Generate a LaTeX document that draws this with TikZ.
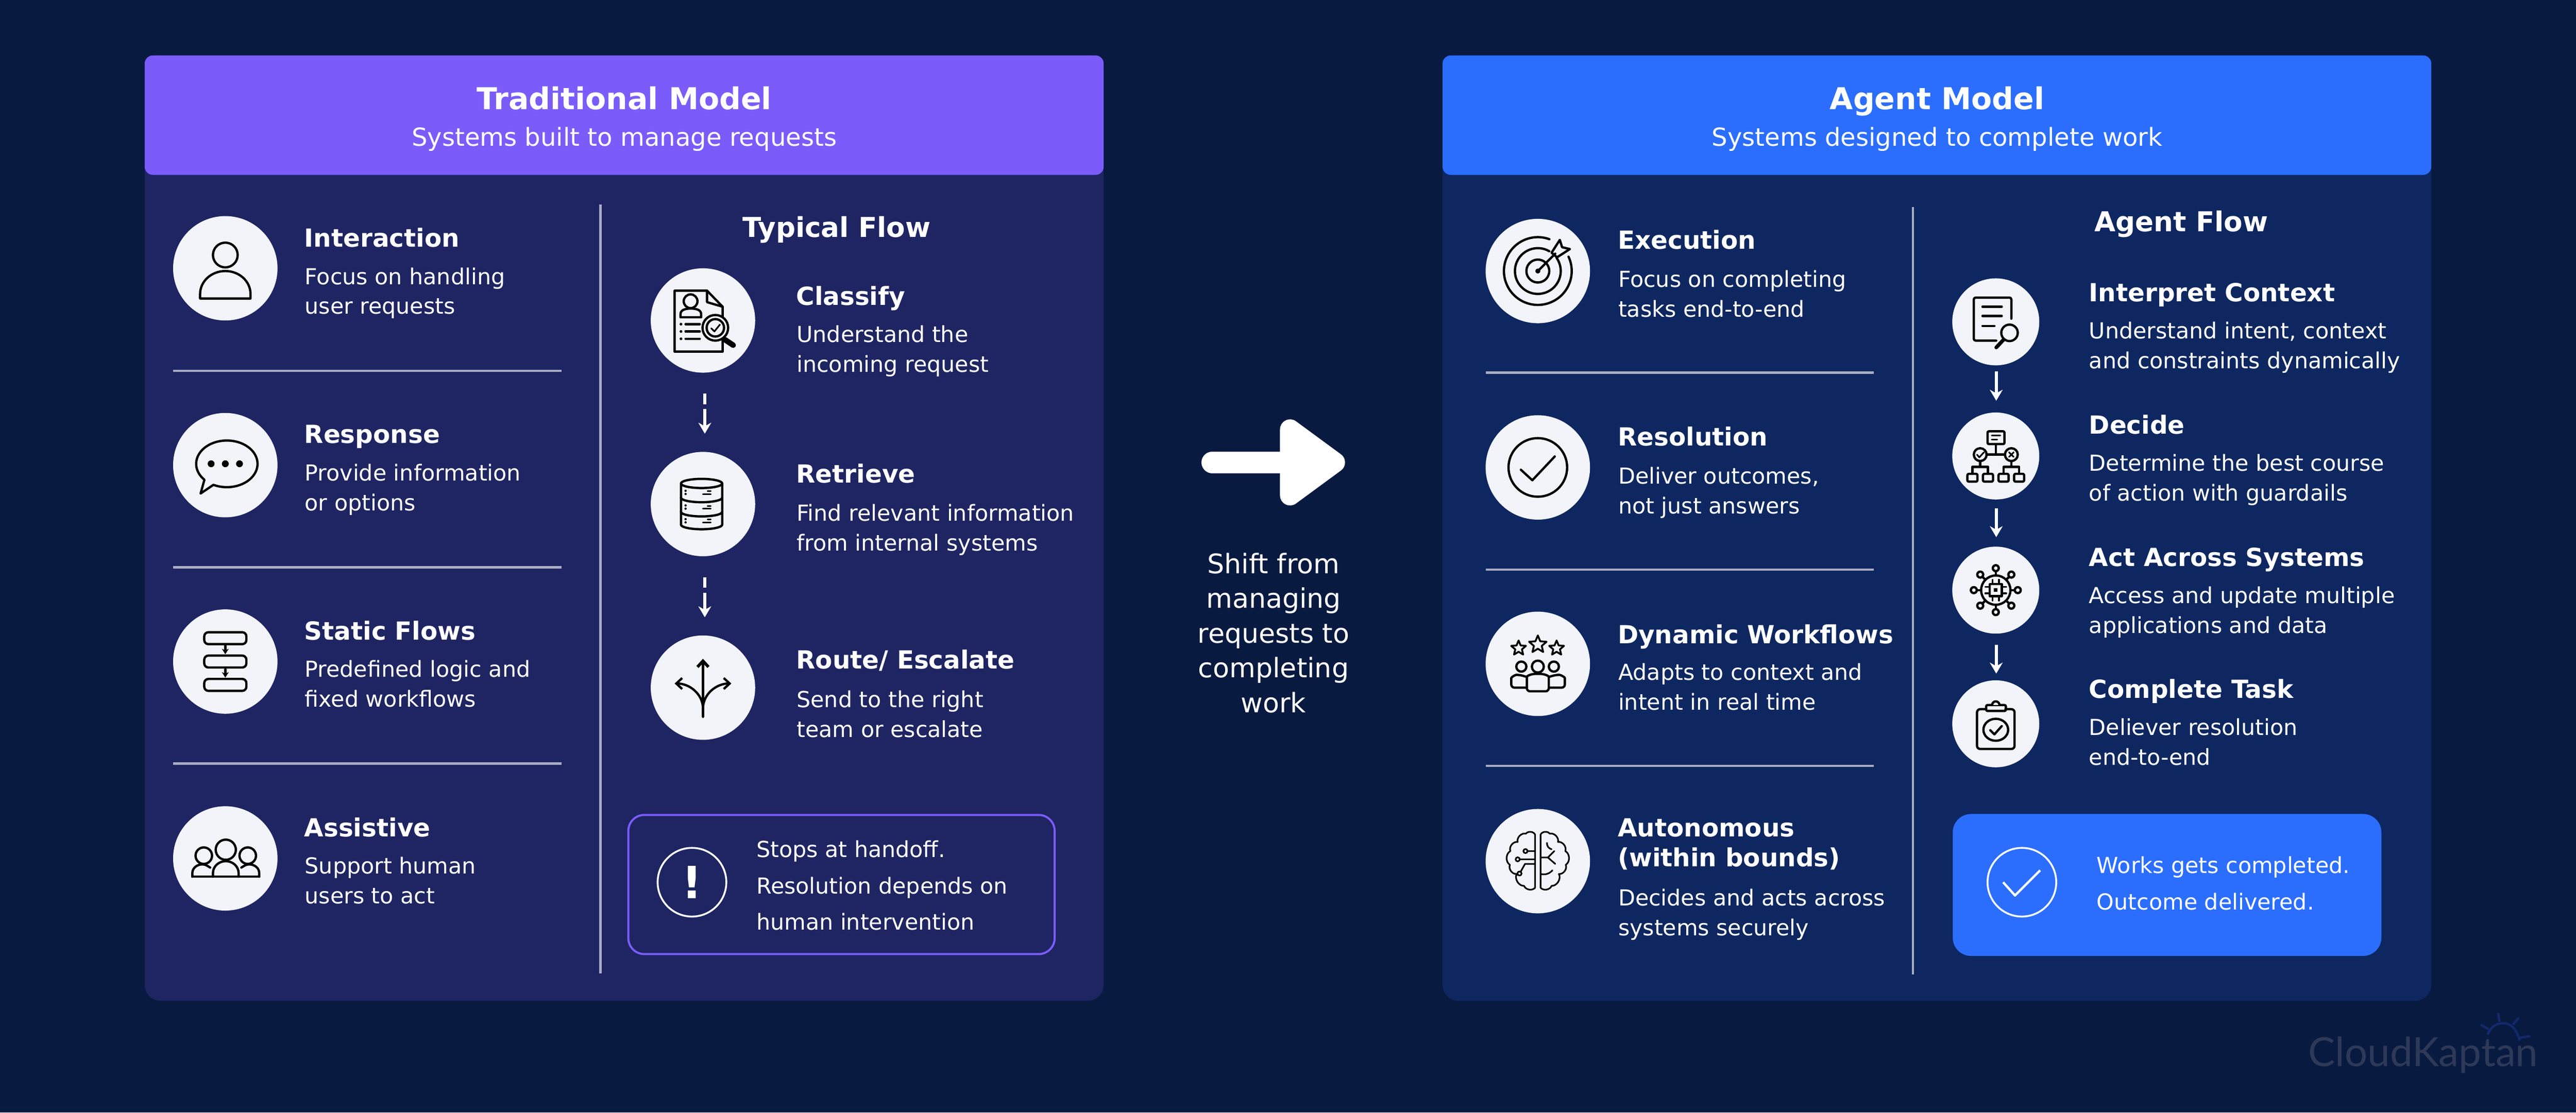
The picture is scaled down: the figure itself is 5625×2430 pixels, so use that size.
\documentclass[tikz,border=0pt]{standalone}
\usepackage{fontspec}
\setmainfont{DejaVu Sans}
\newfontfamily\logofont{Lato}
\usetikzlibrary{arrows.meta}
\definecolor{pagebg}{HTML}{091A41}
\definecolor{tradbody}{HTML}{1E2562}
\definecolor{agentbody}{HTML}{0E2760}
\definecolor{tradhead}{HTML}{7B5CFB}
\definecolor{agenthead}{HTML}{2B6EFE}
\definecolor{rulegrey}{HTML}{A9ADC4}
\definecolor{discgrey}{HTML}{F2F4F9}
\definecolor{logogrey}{HTML}{2E3957}
\definecolor{logoblue}{HTML}{14296A}
\tikzset{
  >={Stealth[length=2.4mm,width=2.8mm]},
  bigdisc/.style={circle,fill=discgrey,minimum size=22.8mm,inner sep=0},
  smalldisc/.style={circle,fill=discgrey,minimum size=19mm,inner sep=0},
  ringdisc/.style={circle,draw=white,line width=0.4mm,minimum size=15mm,inner sep=0,text=white},
  titletext/.style={anchor=base,inner sep=0,text=white,font=\bfseries\fontsize{18.7}{23}\selectfont},
  subtext/.style={anchor=base,inner sep=0,text=white,font=\fontsize{15.4}{19}\selectfont},
  flowtitle/.style={anchor=base,inner sep=0,text=white,font=\bfseries\fontsize{17}{20}\selectfont},
  rowhead/.style={anchor=base west,align=left,inner sep=0,text=white,font=\bfseries\fontsize{15.5}{18.5}\selectfont},
  rowtext/.style={anchor=base west,align=left,inner sep=0,text=white,font=\fontsize{13.7}{18.5}\selectfont},
  calltext/.style={anchor=base west,align=left,inner sep=0,text=white,font=\fontsize{13.7}{22.5}\selectfont},
  shifttext/.style={anchor=base,align=center,inner sep=0,text=white,font=\fontsize{16.7}{21.6}\selectfont},
  sepline/.style={draw=rulegrey,line width=0.5mm},
  flowdash/.style={->,white,line width=0.7mm,dash pattern=on 2.3mm off 1.1mm on 9mm},
  flowsolid/.style={->,white,line width=0.7mm},
  iconline/.style={draw=black,line width=0.5mm,line join=round,line cap=round},
  thinline/.style={draw=black,line width=0.35mm,line join=round,line cap=round},
  smalltip/.style={-{Stealth[length=1.2mm,width=1.5mm]}},
  personicon/.pic={
    \draw[iconline] (0,-29) circle (2.7mm);
    \draw[iconline] (-55,66) -- (-55,56) arc[start angle=180,end angle=0,x radius=5.5mm,y radius=5mm] -- (55,66) -- cycle;
  },
  bubbleicon/.pic={
    \draw[iconline] (-26,43) arc[start angle=244,end angle=583,x radius=6.7mm,y radius=5.1mm] -- (-54,62) -- cycle;
    \foreach \x in {-31,0,31} \fill (\x,-3) circle (0.75mm);
  },
  stackicon/.pic={
    \foreach \y in {-64,-13,38}
      \draw[iconline,rounded corners=0.9mm] (-46,\y) rectangle (46,\y+26);
    \foreach \y in {-34,17}
      \draw[iconline,smalltip] (0,\y) -- (0,\y+18);
  },
  teamicon/.pic={
    \draw[iconline] (1,-19) circle (2.2mm);
    \draw[iconline] (-47,-6) circle (1.8mm);
    \draw[iconline] (49,-6) circle (1.8mm);
    \draw[iconline] (-72,40) -- (74,40);
    \draw[iconline] (-27,40) -- (-27,32) to[out=90,in=180] (1,6) to[out=0,in=90] (29,32) -- (29,40);
    \draw[iconline] (-72,40) -- (-72,32) to[out=90,in=180] (-50,13) to[out=0,in=150] (-33,20);
    \draw[iconline] (74,40) -- (74,32) to[out=90,in=0] (52,13) to[out=180,in=30] (35,20);
  },
  docicon/.pic={
    \draw[iconline] (9,-65) -- (-62,-65) -- (-62,68) -- (43,68) -- (43,-30) -- cycle;
    \draw[iconline] (9,-65) -- (9,-40) -- (43,-30);
    \draw[iconline] (-27,-42) circle (1.5mm);
    \draw[iconline] (-49,-7) -- (-49,-14) to[out=90,in=180] (-27,-26) to[out=0,in=90] (-4,-14) -- (-4,-7) -- cycle;
    \foreach \y in {8,24,40} {
      \fill (-48,\y) circle (0.3mm);
      \draw[iconline] (-38,\y) -- (-7,\y);
    }
    \draw[iconline,line width=1.2mm] (48,42) -- (66,54);
    \draw[iconline,fill=discgrey] (27,16) circle (2.8mm);
    \draw[iconline] (27,16) circle (1.9mm);
    \draw[thinline] (18,17) -- (25,24) -- (37,9);
  },
  dbicon/.pic={
    \draw[iconline] (-3,-45) ellipse (4.5mm and 1mm);
    \draw[iconline] (-48,-45) -- (-48,45) arc[start angle=180,end angle=360,x radius=4.5mm,y radius=1mm] -- (42,-45);
    \foreach \y in {-14,17} {
      \draw[iconline] (-48,\y) arc[start angle=180,end angle=360,x radius=4.5mm,y radius=1mm];
    }
    \foreach \y in {-22,10,40} {
      \fill (-38,\y) circle (0.25mm);
      \fill (-38,\y-7) circle (0.25mm);
      \draw[thinline] (0,\y) -- (17,\y);
      \draw[thinline] (10,\y-6) -- (17,\y-6);
    }
  },
  spliticon/.pic={
    \draw[iconline,line width=0.65mm,-{Straight Barb[length=1.3mm,width=2.4mm]}] (0,63) -- (0,-63);
    \draw[iconline,-{Straight Barb[length=1.3mm,width=2.4mm]}] (0,46) to[out=90,in=0] (-62,-9);
    \draw[iconline,-{Straight Barb[length=1.3mm,width=2.4mm]}] (0,46) to[out=90,in=180] (62,-9);
  },
  targeticon/.pic={
    \draw[iconline] (70:7.4mm) arc[start angle=70,end angle=385,radius=7.4mm];
    \draw[iconline] (60:5mm) arc[start angle=60,end angle=395,radius=5mm];
    \draw[iconline] (50:2.5mm) arc[start angle=50,end angle=400,radius=2.5mm];
    \fill (0,0) circle (0.55mm);
    \draw[iconline] (0,0) -- (38,-38);
    \draw[iconline] (30,-40) -- (48,-68) -- (53,-52) -- (70,-48) -- (42,-30) -- cycle;
  },
  checkicon/.pic={
    \draw[iconline] (0,0) circle (6.4mm);
    \draw[iconline] (-37,5) -- (-12,28) -- (37,-24);
  },
  staricon/.pic={
    \draw[iconline,line width=0.4mm] (90:#1mm) -- (126:0.45*#1mm) -- (162:#1mm) -- (198:0.45*#1mm) -- (234:#1mm) -- (270:0.45*#1mm) -- (306:#1mm) -- (342:0.45*#1mm) -- (18:#1mm) -- (54:0.45*#1mm) -- cycle;
  },
  ratedicon/.pic={
    \pic at (-42,-34) {staricon=1.7};
    \pic at (0,-42) {staricon=2};
    \pic at (41,-34) {staricon=1.7};
    \draw[iconline] (-36,6) circle (1.1mm);
    \draw[iconline] (35,6) circle (1.1mm);
    \draw[iconline] (0,6) circle (1.3mm);
    \draw[iconline,rounded corners=0.7mm] (-24,60) -- (-24,36) to[out=90,in=180] (0,22) to[out=0,in=90] (24,36) -- (24,60) -- cycle;
    \draw[iconline,rounded corners=0.7mm] (-24,52) -- (-58,52) -- (-58,38) to[out=90,in=180] (-40,24) -- (-26,28);
    \draw[iconline,rounded corners=0.7mm] (24,52) -- (59,52) -- (59,38) to[out=90,in=0] (40,24) -- (26,28);
  },
  brainicon/.pic={
    \draw[thinline] (6,-58) to[bend left=60] (26,-60) to[bend left=60] (44,-42) to[bend left=60] (60,-22) to[bend left=60] (61,8) to[bend left=60] (46,28) to[bend left=60] (30,54) to[bend left=60] (6,58) -- cycle;
    \draw[thinline] (-6,-58) to[bend right=60] (-26,-60) to[bend right=60] (-44,-42) to[bend right=60] (-60,-22) to[bend right=60] (-61,8) to[bend right=60] (-46,28) to[bend right=60] (-30,54) to[bend right=60] (-6,58) -- cycle;
    \draw[thinline] (6,-8) -- (22,-8) -- (36,-22);
    \draw[thinline] (22,-8) -- (38,6);
    \draw[thinline] (6,28) to[bend right=30] (32,20);
    \draw[thinline] (20,-40) to[bend right=40] (30,-26);
    \draw[thinline] (-6,-4) -- (-40,-4);
    \draw[thinline] (-6,6) -- (-28,6) -- (-38,24);
    \draw[thinline] (-6,-22) -- (-22,-22);
    \draw[thinline] (-27,-22) circle (0.45mm);
    \draw[thinline] (-44,-4) circle (0.45mm);
    \draw[thinline] (-40,27) circle (0.45mm);
  },
  findicon/.pic={
    \draw[iconline,rounded corners=0.4mm] (34,-7) -- (34,-53) -- (-48,-53) -- (-48,41) -- (1,41);
    \draw[iconline] (-29,-33) -- (13,-33);
    \draw[iconline] (-29,-13) -- (13,-13);
    \draw[iconline] (-29,9) -- (-3,9);
    \draw[iconline] (30,24) circle (1.8mm);
    \draw[iconline,line width=0.8mm] (17,39) -- (1,56);
  },
  treeicon/.pic={
    \draw[iconline,rounded corners=0.3mm] (-18,-54) rectangle (19,-26);
    \draw[thinline] (-9,-45) -- (10,-45);
    \draw[thinline] (-9,-36) -- (3,-36);
    \draw[iconline] (0,-26) -- (0,-3);
    \draw[iconline] (-20,-3) -- (20,-3);
    \draw[iconline] (-34,-3) circle (1.4mm);
    \draw[iconline] (34,-3) circle (1.4mm);
    \draw[thinline] (-41,-3) -- (-36,3) -- (-26,-8);
    \draw[thinline] (29,-8) -- (39,2);
    \draw[thinline] (29,2) -- (39,-8);
    \draw[iconline] (-34,11) -- (-34,24);
    \draw[iconline] (34,11) -- (34,24);
    \draw[iconline] (-51,39) -- (-51,24) -- (-17,24) -- (-17,39);
    \draw[iconline] (17,39) -- (17,24) -- (51,24) -- (51,39);
    \foreach \x in {-51,-17,17,51}
      \draw[iconline,rounded corners=0.3mm] (\x-11,39) rectangle (\x+11,56);
  },
  chipicon/.pic={
    \draw[iconline] (0,0) circle (3.2mm);
    \draw[iconline] (-13,-13) rectangle (13,13);
    \fill (-4,-4) rectangle (4,4);
    \foreach \t in {-7,7} {
      \draw[thinline] (-23,\t) -- (-13,\t);
      \draw[thinline] (13,\t) -- (23,\t);
      \draw[thinline] (\t,-23) -- (\t,-13);
      \draw[thinline] (\t,13) -- (\t,23);
    }
    \foreach \a in {0,45,...,315} {
      \draw[iconline] (\a:3.2mm) -- (\a:4.1mm);
      \draw[iconline] (\a:4.8mm) circle (0.65mm);
    }
  },
  boardicon/.pic={
    \draw[iconline,rounded corners=0.7mm] (-21,-32) -- (-41,-32) -- (-41,55) -- (41,55) -- (41,-32) -- (21,-32);
    \draw[iconline,rounded corners=0.3mm] (-21,-41) rectangle (22,-28);
    \draw[iconline,fill=discgrey] (-8,-41) arc[start angle=180,end angle=0,radius=0.8mm];
    \draw[iconline] (0,13) ellipse (2.7mm and 2.4mm);
    \draw[iconline] (-12,14) -- (-3,23) -- (13,5);
  }
}

\begin{document}
\begin{tikzpicture}[x=0.1mm,y=-0.1mm]
    % page and panels
    \fill [pagebg] (0,0) rectangle (5625,2430);
    \fill [tradbody,rounded corners=3.5mm] (316,121) rectangle (2410,2186);
    \fill [tradhead,rounded corners=1.8mm] (316,121) rectangle (2410,382);
    \fill [agentbody,rounded corners=3.5mm] (3150,121) rectangle (5309,2186);
    \fill [agenthead,rounded corners=1.8mm] (3150,121) rectangle (5309,382);

    \node [titletext] (tradtitle) at (1363,239) {Traditional Model};
    \node [subtext] (tradsub) at (1363,319) {Systems built to manage requests};
    \node [titletext] (agenttitle) at (4230,239) {Agent Model};
    \node [subtext] (agentsub) at (4230,319) {Systems designed to complete work};

    % rules
    \foreach \y in {810,1239,1668} \draw [sepline] (378,\y) -- (1226,\y);
    \foreach \y in {814,1244,1673} \draw [sepline] (3244,\y) -- (4092,\y);
    \draw [sepline] (1311,447) -- (1311,2126);
    \draw [sepline] (4177,452) -- (4177,2128);

    % left columns
    \foreach \name/\yc/\yh/\yb/\head/\body in {
        interaction/586/539/686/{Interaction}/{Focus on handling\\user requests},
        response/1016/968/1115/{Response}/{Provide information\\or options},
        staticflows/1445/1398/1544/{Static Flows}/{Predefined logic and\\fixed workflows},
        assistive/1875/1827/1974/{Assistive}/{Support human\\users to act}} {
      \node [bigdisc] (\name) at (492,\yc) {};
      \node [rowhead] (\name-head) at (664,\yh) {\head};
      \node [rowtext] (\name-text) at (665,\yb) {\body};
    }
    \foreach \name/\yc/\yh/\yb/\head/\body in {
        execution/592/544/692/{Execution}/{Focus on completing\\tasks end-to-end},
        resolution/1021/974/1122/{Resolution}/{Deliver outcomes,\\not just answers},
        dynamic/1450/1406/1551/{Dynamic Workflows}/{Adapts to context and\\intent in real time},
        autonomous/1881/1893/2043/{Autonomous\\(within bounds)}/{Decides and acts across\\systems securely}} {
      \node [bigdisc] (\name) at (3358,\yc) {};
      \node [rowhead] (\name-head) at (3532,\yh) {\head};
      \node [rowtext] (\name-text) at (3533,\yb) {\body};
    }

    % flows
    \node [flowtitle] (typicalflow) at (1827,518) {Typical Flow};
    \foreach \name/\yc/\yh/\yb/\head/\body in {
        classify/700/667/813/{Classify}/{Understand the\\incoming request},
        retrieve/1101/1055/1203/{Retrieve}/{Find relevant information\\from internal systems},
        route/1502/1461/1610/{Route/ Escalate}/{Send to the right\\team or escalate}} {
      \node [bigdisc] (\name) at (1535,\yc) {};
      \node [rowhead] (\name-head) at (1738,\yh) {\head};
      \node [rowtext] (\name-text) at (1739,\yb) {\body};
    }
    \node [flowtitle] (agentflow) at (4763,506) {Agent Flow};
    \foreach \name/\yc/\yh/\yb/\head/\body in {
        interpret/703/659/805/{Interpret Context}/{Understand intent, context\\and constraints dynamically},
        decide/996/948/1094/{Decide}/{Determine the best course\\of action with guardails},
        act/1289/1237/1383/{Act Across Systems}/{Access and update multiple\\applications and data},
        complete/1581/1525/1671/{Complete Task}/{Deliever resolution\\end-to-end}} {
      \node [smalldisc] (\name) at (4358,\yc) {};
      \node [rowhead] (\name-head) at (4561,\yh) {\head};
      \node [rowtext] (\name-text) at (4561,\yb) {\body};
    }

    \draw [flowdash,shorten <=4.5mm,shorten >=3.9mm] ([xshift=0.4mm]classify.south) -- ([xshift=0.4mm]retrieve.north);
    \draw [flowdash,shorten <=4.5mm,shorten >=3.9mm] ([xshift=0.4mm]retrieve.south) -- ([xshift=0.4mm]route.north);
    \draw [flowsolid,shorten <=1.2mm,shorten >=2.5mm] ([xshift=0.1mm]interpret.south) -- ([xshift=0.1mm]decide.north);
    \draw [flowsolid,shorten <=1.9mm,shorten >=2mm] ([xshift=0.1mm]decide.south) -- ([xshift=0.1mm]act.north);
    \draw [flowsolid,shorten <=2.4mm,shorten >=1.4mm] ([xshift=0.1mm]act.south) -- ([xshift=0.1mm]complete.north);

    % icons
    \pic at (interaction) {personicon};
    \pic at (response) {bubbleicon};
    \pic at (staticflows) {stackicon};
    \pic at (assistive) {teamicon};
    \pic at (classify) {docicon};
    \pic at (retrieve) {dbicon};
    \pic at (route) {spliticon};
    \pic at (execution) {targeticon};
    \pic at (resolution) {checkicon};
    \pic at (dynamic) {ratedicon};
    \pic at (autonomous) {brainicon};
    \pic at (interpret) {findicon};
    \pic at (decide) {treeicon};
    \pic at (act) {chipicon};
    \pic at (complete) {boardicon};

    % boxes at the bottom
    \draw [tradhead,line width=0.45mm,rounded corners=3.5mm] (1372,1780) rectangle (2303,2084);
    \node [ringdisc,font=\bfseries\fontsize{27.6}{30}\selectfont] (stopmark) at (1511,1927) {!};
    \node [calltext] (stoptext) at (1651,2031) {Stops at handoff.\\Resolution depends on\\human intervention};

    \fill [agenthead,rounded corners=4mm] (4264,1778) rectangle (5200,2088);
    \node [ringdisc] (donemark) at (4415,1927) {};
    \draw [white,line width=0.5mm,line join=round] (4374,1927) -- (4400,1956) -- (4455,1901);
    \node [calltext] (donetext) at (4578,1987) {Works gets completed.\\Outcome delivered.};

    % middle arrow
    \draw [white,line width=4.7mm,line cap=round] (2647,1010) -- (2820,1010);
    \fill [white,draw=white,line width=4.4mm,line join=round] (2817,938) -- (2915,1010) -- (2817,1082) -- cycle;
    \node [shifttext] (shiftnote) at (2781,1556) {Shift from\\managing\\requests to\\completing\\work};

    % logo
    \node [anchor=base west,inner sep=0,text=logogrey,font=\logofont\fontsize{25}{28}\selectfont] (logo) at (5040,2329) {CloudKaptan};
    \draw [logoblue,line width=0.5mm] (5432,2260) to[out=70,in=180] (5466,2235) to[out=0,in=105] (5502,2273);
    \draw [logoblue,line width=0.5mm] (5455,2213) -- (5458,2232);
    \draw [logoblue,line width=0.5mm] (5500,2223) -- (5487,2238);
    \draw [logoblue,line width=0.5mm] (5417,2238) -- (5434,2248);
    \draw [logoblue,line width=0.5mm] (5525,2263) -- (5502,2267);
  \end{tikzpicture}
\end{document}
